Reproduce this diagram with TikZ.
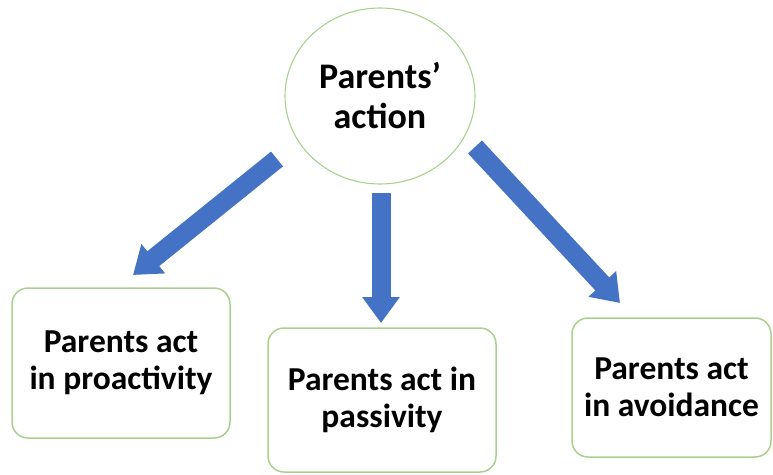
\documentclass[tikz,border=0pt]{standalone}
\usepackage{fontspec}
\setmainfont{Carlito}
\usetikzlibrary{arrows.meta, shapes.geometric, positioning}
\definecolor{boxgreen}{RGB}{169,209,142}
\definecolor{arrowblue}{RGB}{68,114,196}
\tikzset{
  labeltext/.style={align=center, font=\fontsize{33.5}{37}\selectfont\bfseries},
  actbox/.style={labeltext, draw=boxgreen, line width=1.5pt, rounded corners=16pt, inner sep=0pt},
  bigarrow/.style={arrowblue, line width=19pt, -{Triangle[width=36pt,length=26pt]}},
}

\begin{document}
\begin{tikzpicture}[x=1pt,y=-1pt]
    \useasboundingbox (0,0) rectangle (773,474);
    \node[labeltext, font=\fontsize{36}{40}\selectfont\bfseries, ellipse, draw=boxgreen, line width=1.1pt, minimum width=190pt, minimum height=176pt] (act) at (380,96) {Parents’\\action};

    \node[actbox, minimum width=218pt, minimum height=150pt] (proact) at (121,363) {Parents act\\in proactivity};
    \node[actbox, minimum width=228pt, minimum height=144pt] (passiv) at (382,400) {Parents act in\\passivity};
    \node[actbox, minimum width=199pt, minimum height=139pt] (avoid) at (671.5,387.5) {Parents act\\in avoidance};

    % arrows from the circle down to the boxes
    \coordinate (ltail) at (277,159);
    \coordinate (ltip) at (133,275);
    \coordinate (mtail) at (381,193);
    \coordinate (mtip) at (381,323);
    \coordinate (rtail) at (475,147);
    \coordinate (rtip) at (620,303);
    \draw[bigarrow] (ltail) -- (ltip);
    \draw[bigarrow] (mtail) -- (mtip);
    \draw[bigarrow] (rtail) -- (rtip);
  \end{tikzpicture}
\end{document}
